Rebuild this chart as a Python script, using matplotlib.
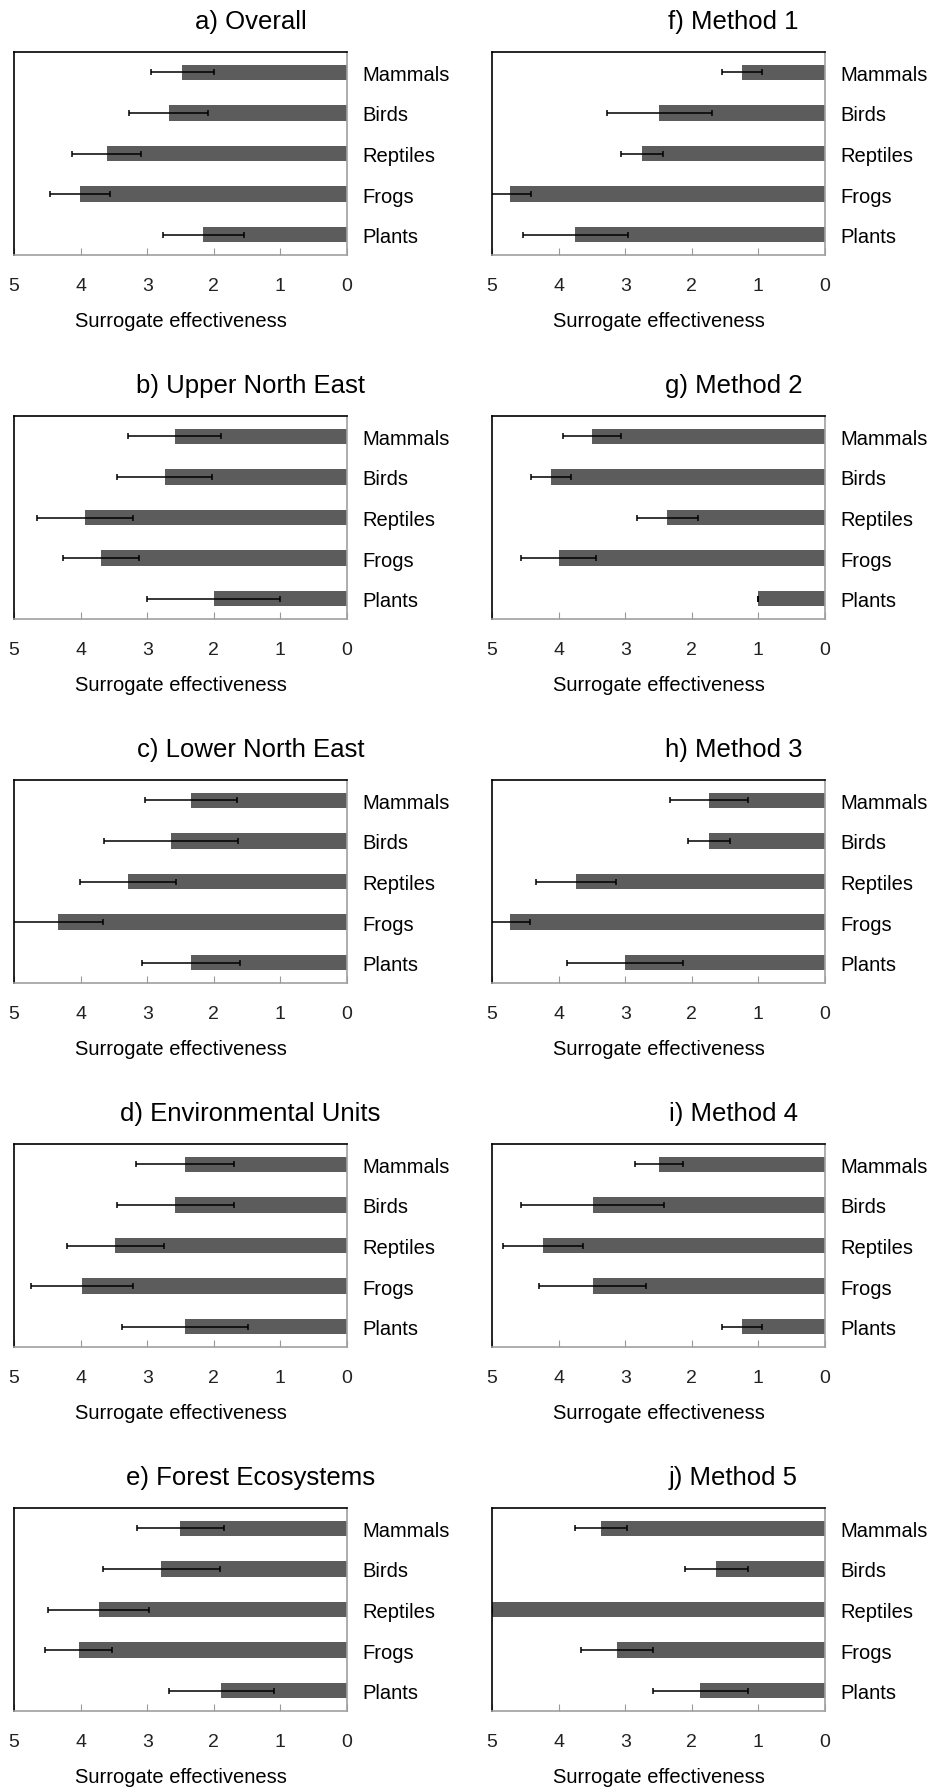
"""Surrogate effectiveness bar panels (a-j)"""
import matplotlib.pyplot as plt

plt.rcParams['font.family'] = ['Liberation Sans', 'DejaVu Sans']

"""Data read from the figure"""
taxa = ['Mammals', 'Birds', 'Reptiles', 'Frogs', 'Plants']

titles = ['a) Overall', 'b) Upper North East', 'c) Lower North East',
          'd) Environmental Units', 'e) Forest Ecosystems',
          'f) Method 1', 'g) Method 2', 'h) Method 3', 'i) Method 4', 'j) Method 5']

overall_mean = [2.47, 2.68, 3.61, 4.01, 2.16]
overall_err = [0.47, 0.60, 0.52, 0.45, 0.61]
upper_ne_mean = [2.59, 2.74, 3.93, 3.69, 2.00]
upper_ne_err = [0.70, 0.72, 0.72, 0.57, 1.00]
lower_ne_mean = [2.34, 2.64, 3.29, 4.34, 2.34]
lower_ne_err = [0.69, 1.01, 0.72, 0.68, 0.74]
env_units_mean = [2.43, 2.58, 3.48, 3.98, 2.43]
env_units_err = [0.74, 0.88, 0.73, 0.77, 0.95]
forest_mean = [2.50, 2.79, 3.73, 4.03, 1.89]
forest_err = [0.66, 0.88, 0.76, 0.50, 0.79]

method1_mean = [1.25, 2.49, 2.75, 4.73, 3.75]
method1_err = [0.30, 0.79, 0.32, 0.31, 0.79]
method2_mean = [3.50, 4.11, 2.37, 4.00, 1.00]
method2_err = [0.44, 0.30, 0.46, 0.56, 0.00]
method3_mean = [1.74, 1.74, 3.74, 4.73, 3.00]
method3_err = [0.59, 0.31, 0.60, 0.30, 0.87]
method4_mean = [2.49, 3.49, 4.24, 3.49, 1.24]
method4_err = [0.36, 1.07, 0.60, 0.80, 0.30]
method5_mean = [3.37, 1.63, 5.00, 3.12, 1.87]
method5_err = [0.39, 0.47, 0.00, 0.54, 0.72]

means = [overall_mean, upper_ne_mean, lower_ne_mean, env_units_mean, forest_mean,
         method1_mean, method2_mean, method3_mean, method4_mean, method5_mean]
errs = [overall_err, upper_ne_err, lower_ne_err, env_units_err, forest_err,
        method1_err, method2_err, method3_err, method4_err, method5_err]

W, H = 935, 1790
fig = plt.figure(figsize=(W / 100, H / 100), dpi=100)

col_left = [14, 492]
box_w = 333
box_h = 203
row_top = [53, 417, 781, 1145, 1509]
title_x = [0.71, 0.725]


def draw_panel(ax, title, mean, err):
    """one horizontal bar panel with reversed x axis"""
    y = list(range(len(taxa)))
    ax.barh(y, mean, height=0.38, color='#5c5c5c', zorder=2)
    ax.errorbar(mean, y, xerr=err, fmt='none', ecolor='black',
                elinewidth=1.1, capsize=2.2, capthick=1.1, zorder=3)
    ax.set_xlim(5, 0)
    ax.set_ylim(4.5, -0.5)
    ax.set_yticks(y)
    ax.set_yticklabels(taxa, fontsize=14.5)
    ax.yaxis.tick_right()
    ax.tick_params(axis='y', length=0, pad=11)
    ax.set_xticks([5, 4, 3, 2, 1, 0])
    ax.set_xticklabels(['5', '4', '3', '2', '1', '0'])
    ax.tick_params(axis='x', direction='in', length=5, color='#999999',
                   labelsize=14, labelcolor='#222222', pad=16)
    ax.spines['left'].set_color('black')
    ax.spines['top'].set_color('black')
    ax.spines['right'].set_color('#a0a0a0')
    ax.spines['bottom'].set_color('#a0a0a0')
    for s in ax.spines.values():
        s.set_linewidth(1.2)
    ax.set_xlabel('Surrogate effectiveness', fontsize=14.5, labelpad=12)
    ax.set_title(title, fontsize=18.5, pad=17)


for i in range(10):
    col = i // 5
    row = i % 5
    left = col_left[col] / W
    bottom = 1 - (row_top[row] + box_h) / H
    ax = fig.add_axes([left, bottom, box_w / W, box_h / H])
    draw_panel(ax, titles[i], means[i], errs[i])
    ax.title.set_x(title_x[col])

fig.savefig('out.png', dpi=100)
